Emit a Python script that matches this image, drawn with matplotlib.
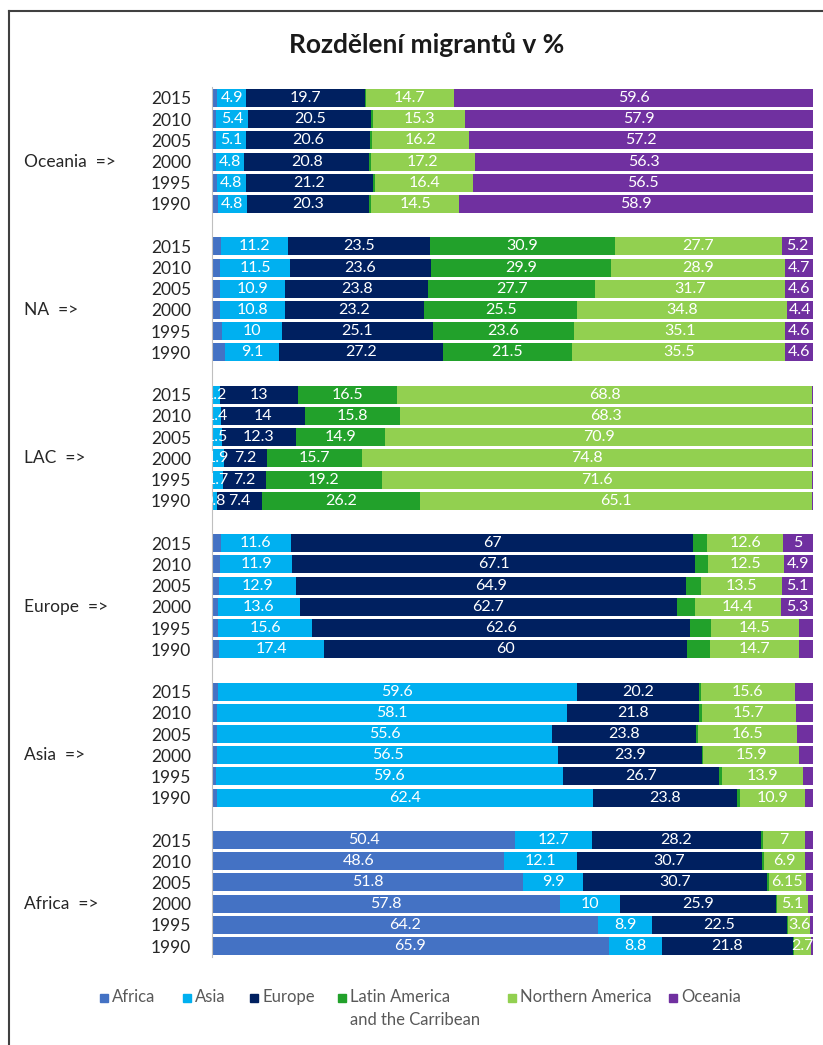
import matplotlib
matplotlib.use("Agg")
import matplotlib.pyplot as plt
import matplotlib.transforms as mtransforms
from matplotlib.lines import Line2D
from matplotlib.patches import Rectangle
import numpy as np

plt.rcParams['font.family'] = ['Lato', 'DejaVu Sans']

# Categories -----------------------------------------------------------
years = [2015, 2010, 2005, 2000, 1995, 1990]
region_labels = ["Oceania  =>", "NA  =>", "LAC  =>", "Europe  =>", "Asia  =>", "Africa  =>"]
series = ["Africa", "Asia", "Europe", "Latin America\nand the Carribean",
          "Northern America", "Oceania"]
colors = ["#4472C4", "#00B0F0", "#002060", "#22A12B", "#92D050", "#7030A0"]

# Shares of migrants by origin (rows follow `series`, columns follow `years`)
oceania = [
    [0.8, 0.6, 0.6, 0.6, 0.8, 1.0],
    [4.9, 5.4, 5.1, 4.8, 4.8, 4.8],
    [19.7, 20.5, 20.6, 20.8, 21.2, 20.3],
    [0.1, 0.3, 0.3, 0.3, 0.3, 0.4],
    [14.7, 15.3, 16.2, 17.2, 16.4, 14.5],
    [59.6, 57.9, 57.2, 56.3, 56.5, 58.9],
]
north_america = [
    [1.5, 1.4, 1.3, 1.3, 1.6, 2.1],
    [11.2, 11.5, 10.9, 10.8, 10, 9.1],
    [23.5, 23.6, 23.8, 23.2, 25.1, 27.2],
    [30.9, 29.9, 27.7, 25.5, 23.6, 21.5],
    [27.7, 28.9, 31.7, 34.8, 35.1, 35.5],
    [5.2, 4.7, 4.6, 4.4, 4.6, 4.6],
]
latin_america = [
    [0.1, 0.1, 0.1, 0.1, 0.1, 0.1],
    [1.2, 1.4, 1.5, 1.9, 1.7, 0.8],
    [13, 14, 12.3, 7.2, 7.2, 7.4],
    [16.5, 15.8, 14.9, 15.7, 19.2, 26.2],
    [68.8, 68.3, 70.9, 74.8, 71.6, 65.1],
    [0.2, 0.2, 0.2, 0.2, 0.1, 0.2],
]
europe = [
    [1.5, 1.4, 1.1, 1.0, 1.0, 1.2],
    [11.6, 11.9, 12.9, 13.6, 15.6, 17.4],
    [67, 67.1, 64.9, 62.7, 62.6, 60],
    [2.3, 2.2, 2.5, 3.0, 3.5, 3.8],
    [12.6, 12.5, 13.5, 14.4, 14.5, 14.7],
    [5, 4.9, 5.1, 5.3, 2.4, 2.4],
]
asia = [
    [1.0, 0.9, 0.9, 0.9, 0.6, 0.9],
    [59.6, 58.1, 55.6, 56.5, 59.6, 62.4],
    [20.2, 21.8, 23.8, 23.9, 26.7, 23.8],
    [0.4, 0.5, 0.4, 0.3, 0.5, 0.5],
    [15.6, 15.7, 16.5, 15.9, 13.9, 10.9],
    [3.0, 2.8, 2.6, 2.3, 1.7, 1.3],
]
africa = [
    [50.4, 48.6, 51.8, 57.8, 64.2, 65.9],
    [12.7, 12.1, 9.9, 10, 8.9, 8.8],
    [28.2, 30.7, 30.7, 25.9, 22.5, 21.8],
    [0.3, 0.3, 0.3, 0.2, 0.2, 0.2],
    [7, 6.9, 6.15, 5.1, 3.6, 2.7],
    [1.3, 1.3, 1.2, 0.9, 0.5, 0.4],
]
region_data = [oceania, north_america, latin_america, europe, asia, africa]

# Segments that carry no value label: region index -> {series index: years}
unlabeled = {
    0: {0: years, 3: years},
    1: {0: years},
    2: {0: years, 5: years},
    3: {0: years, 3: years, 5: [1995, 1990]},
    4: {0: years, 3: years, 5: years},
    5: {3: years, 5: years},
}

# Row layout: six years per region, one blank row between regions
n_years = len(years)
rows, raw, shown = [], [], []
for g, data in enumerate(region_data):
    arr = np.array(data, dtype=float)
    for j, yr in enumerate(years):
        rows.append(g * (n_years + 1) + j)
        raw.append(arr[:, j])
        shown.append([yr not in unlabeled[g].get(s, []) for s in range(len(series))])
rows = np.array(rows)
raw = np.array(raw)                      # (n_rows, n_series)
shares = raw / raw.sum(axis=1, keepdims=True) * 100   # 100 % stacked

W, H = 823, 1045
fig = plt.figure(figsize=(W / 100, H / 100), dpi=100)
ax = fig.add_axes([212 / W, 1 - 956.6 / H, 601 / W, 869.2 / H])

left = np.zeros(len(rows))
for s, (name, col) in enumerate(zip(series, colors)):
    bars = ax.barh(rows, shares[:, s], left=left, height=0.84, color=col,
                   linewidth=0, label=name)
    labels = [f"{raw[i, s]:g}" if shown[i][s] else "" for i in range(len(rows))]
    ax.bar_label(bars, labels=labels, label_type="center", color="white",
                 fontsize=11.5, clip_on=True)
    left += shares[:, s]

ax.set_xlim(0, 100)
ax.set_ylim(rows.max() + 0.5, -0.5)
ax.set_xticks([])
ax.set_yticks(rows, [str(years[i % n_years]) for i in range(len(rows))])
ax.tick_params(axis="y", length=0, pad=15, labelsize=12.5, labelcolor="#262626")
for side in ("top", "right", "bottom"):
    ax.spines[side].set_visible(False)
ax.spines["left"].set_color("#BFBFBF")
ax.spines["left"].set_linewidth(0.8)

# Region names beside each block of years
blend = mtransforms.blended_transform_factory(fig.transFigure, ax.transData)
for g, name in enumerate(region_labels):
    ax.text(24 / W, g * (n_years + 1) + 3, name, transform=blend, ha="left",
            va="center", fontsize=12.5, color="#262626")

fig.text(427 / W, 1 - 45 / H, "Rozdělení migrantů v %", ha="center",
         va="center", fontsize=19, fontweight="bold", color="#1a1a1a")

# Legend row
leg_x = [100, 183, 250, 338, 508, 669]
leg_y = 998
for x, name, col in zip(leg_x, series, colors):
    fig.patches.append(Rectangle((x / W, 1 - (leg_y + 4) / H), 8 / W, 8 / H,
                                 transform=fig.transFigure, color=col))
    fig.text((x + 12) / W, 1 - (leg_y - 9) / H, name, ha="left", va="top",
             fontsize=12, color="#595959", linespacing=1.55)

# Chart frame
fig.add_artist(Line2D([8.5 / W, 1], [1 - 11 / H, 1 - 11 / H], color="#404040",
                      lw=1.5, transform=fig.transFigure))
fig.add_artist(Line2D([8.5 / W, 8.5 / W], [0, 1 - 11 / H], color="#404040",
                      lw=1.5, transform=fig.transFigure))

fig.savefig("out.png", dpi=100)
